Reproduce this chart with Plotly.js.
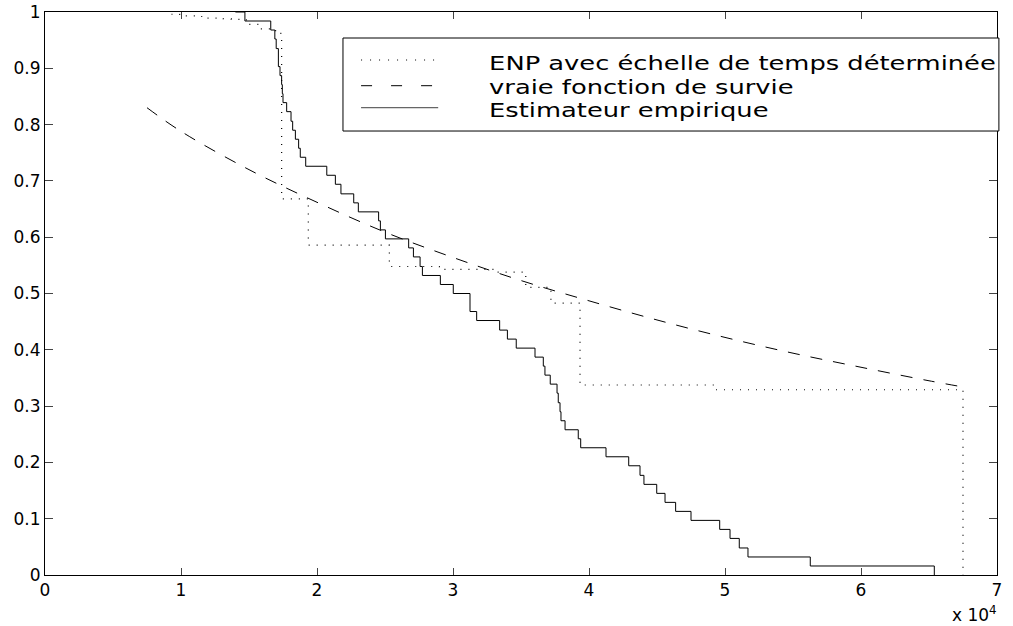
<!DOCTYPE html>
<html>
<head>
<meta charset="utf-8">
<script src="https://cdn.plot.ly/plotly-3.0.1.min.js"></script>
<style>html,body{margin:0;padding:0;background:#fff;}#chart{width:1013px;height:626px;}</style>
</head>
<body>
<div id="chart"></div>
<script>
// ---- Data (time in units of 10^4) ----
// ENP avec échelle de temps déterminée (step function: value from x onward)
var enpX = [0.93, 0.99, 1.13, 1.18, 1.31, 1.37, 1.44, 1.495, 1.58, 1.686, 1.728, 1.74, 1.936, 2.532, 2.9, 3.3, 3.535, 3.72, 3.934, 4.93, 6.75];
var enpY = [0.996, 0.993, 0.992, 0.989, 0.988, 0.987, 0.986, 0.978, 0.970, 0.967, 0.962, 0.668, 0.586, 0.548, 0.543, 0.538, 0.511, 0.483, 0.3375, 0.329, 0];

// vraie fonction de survie (smooth curve)
var trueX = [0.75, 1, 1.5, 2, 2.5, 3, 3.5, 4, 4.5, 5, 5.5, 6, 6.5, 6.75];
var trueY = [0.830, 0.788, 0.720, 0.662, 0.609, 0.564, 0.523, 0.487, 0.453, 0.422, 0.394, 0.369, 0.345, 0.334];

// Estimateur empirique (jump times and survival after each jump)
var empX = [1.4, 1.47, 1.66, 1.69, 1.70, 1.716, 1.728, 1.74, 1.745, 1.75,
            1.777, 1.809, 1.821, 1.841, 1.865, 1.877, 1.917, 2.072, 2.135, 2.176,
            2.27, 2.304, 2.453, 2.466, 2.503, 2.674, 2.709, 2.758, 2.775, 2.907,
            3.002, 3.125, 3.174, 3.343, 3.40, 3.465, 3.603, 3.664, 3.676, 3.715,
            3.765, 3.774, 3.787, 3.794, 3.824, 3.921, 3.939, 4.125, 4.292, 4.375,
            4.404, 4.498, 4.559, 4.637, 4.75, 4.961, 5.037, 5.105, 5.169, 5.627,
            6.539];
var empY = [1, 0.984, 0.968, 0.952, 0.935, 0.903, 0.887, 0.871, 0.855, 0.839,
            0.823, 0.806, 0.790, 0.774, 0.758, 0.742, 0.726, 0.710, 0.694, 0.677,
            0.661, 0.645, 0.629, 0.613, 0.597, 0.581, 0.565, 0.548, 0.532, 0.516,
            0.500, 0.468, 0.452, 0.435, 0.419, 0.403, 0.387, 0.371, 0.355, 0.339,
            0.323, 0.306, 0.290, 0.274, 0.258, 0.242, 0.226, 0.210, 0.194, 0.177,
            0.161, 0.145, 0.129, 0.113, 0.097, 0.081, 0.065, 0.048, 0.032, 0.016,
            0];

var seriesNames = ['ENP avec échelle de temps déterminée', 'vraie fonction de survie', 'Estimateur empirique'];
var xTickVals = [0, 1, 2, 3, 4, 5, 6, 7];
var yTickVals = [0, 0.1, 0.2, 0.3, 0.4, 0.5, 0.6, 0.7, 0.8, 0.9, 1];
var exponentLabel = 'x 10<sup>4</sup>';

var FONT = 'DejaVu Sans, Arial, sans-serif';

var traces = [
  {x: enpX, y: enpY, name: seriesNames[0], mode: 'lines', line: {shape: 'hv', color: '#000', width: 1.2, dash: '1px,7px'}, hoverinfo: 'skip', showlegend: false},
  {x: trueX, y: trueY, name: seriesNames[1], mode: 'lines', line: {shape: 'spline', color: '#000', width: 1, dash: '12px,11px'}, hoverinfo: 'skip', showlegend: false},
  {x: empX, y: empY, name: seriesNames[2], mode: 'lines', line: {shape: 'hv', color: '#000', width: 1}, hoverinfo: 'skip', showlegend: false}
];

// manual legend geometry (paper coords)
var lgX0 = 0.313, lgX1 = 1.002, lgY0 = 0.7886, lgY1 = 0.9538;
var smpX0 = 0.332, smpX1 = 0.413, txtX = 0.4643;
var rowY = [0.9147, 0.8691, 0.8300];
var rowTxtY = [0.9095, 0.8670, 0.8265];
var legendTextWidthPx = 507;   // width of the longest legend line in the reference

var shapes = [
  {type: 'rect', xref: 'paper', yref: 'paper', x0: lgX0, x1: lgX1, y0: lgY0, y1: lgY1, line: {color: '#000', width: 1}, fillcolor: '#fff', layer: 'above'},
  {type: 'line', xref: 'paper', yref: 'paper', x0: smpX0, x1: smpX1, y0: rowY[0], y1: rowY[0], line: {color: '#000', width: 1.2, dash: '1px,8px'}},
  {type: 'line', xref: 'paper', yref: 'paper', x0: smpX0, x1: smpX1, y0: rowY[1], y1: rowY[1], line: {color: '#000', width: 1, dash: '11px,19px'}},
  {type: 'line', xref: 'paper', yref: 'paper', x0: smpX0, x1: smpX1, y0: rowY[2], y1: rowY[2], line: {color: '#666', width: 1.2}}
];

var annotations = seriesNames.map(function (t, i) {
  return {text: t, xref: 'paper', yref: 'paper', x: txtX, y: rowTxtY[i], xanchor: 'left', yanchor: 'middle', showarrow: false, font: {family: FONT, size: 20, color: '#000'}};
});
annotations.push({text: exponentLabel, xref: 'paper', yref: 'paper', x: 0.976, y: -0.069, xanchor: 'center', yanchor: 'middle', showarrow: false, font: {family: FONT, size: 17, color: '#000'}});

var axisCommon = {
  showgrid: false, zeroline: false, showline: true, linecolor: '#000', linewidth: 1,
  mirror: 'ticks', ticks: 'inside', tickcolor: '#444', tickwidth: 1,
  tickfont: {family: FONT, size: 17, color: '#000'}
};

var layout = {
  width: 1013, height: 626,
  margin: {l: 45, r: 16, t: 12, b: 51},
  paper_bgcolor: '#fff', plot_bgcolor: '#fff',
  showlegend: false,
  xaxis: Object.assign({}, axisCommon, {range: [0, 7], tickvals: xTickVals, ticklen: 7}),
  yaxis: Object.assign({}, axisCommon, {range: [0, 1], tickvals: yTickVals, ticklen: 8}),
  shapes: shapes,
  annotations: annotations
};

Plotly.newPlot('chart', traces, layout, {staticPlot: true, displayModeBar: false}).then(function (gd) {
  // The reference's legend font is horizontally stretched: widen the legend texts the same way.
  var texts = gd.querySelectorAll('.annotation-text');
  var first = null;
  texts.forEach(function (t) { if (t.textContent === seriesNames[0]) first = t; });
  if (!first) return;
  var w = first.getBBox().width;
  if (!w) return;
  var sx = legendTextWidthPx / w;
  texts.forEach(function (t) {
    if (seriesNames.indexOf(t.textContent) >= 0) {
      t.style.transformBox = 'fill-box';
      t.style.transformOrigin = '0% 50%';
      t.style.transform = 'scaleX(' + sx.toFixed(3) + ')';
    }
  });
});
</script>
</body>
</html>
